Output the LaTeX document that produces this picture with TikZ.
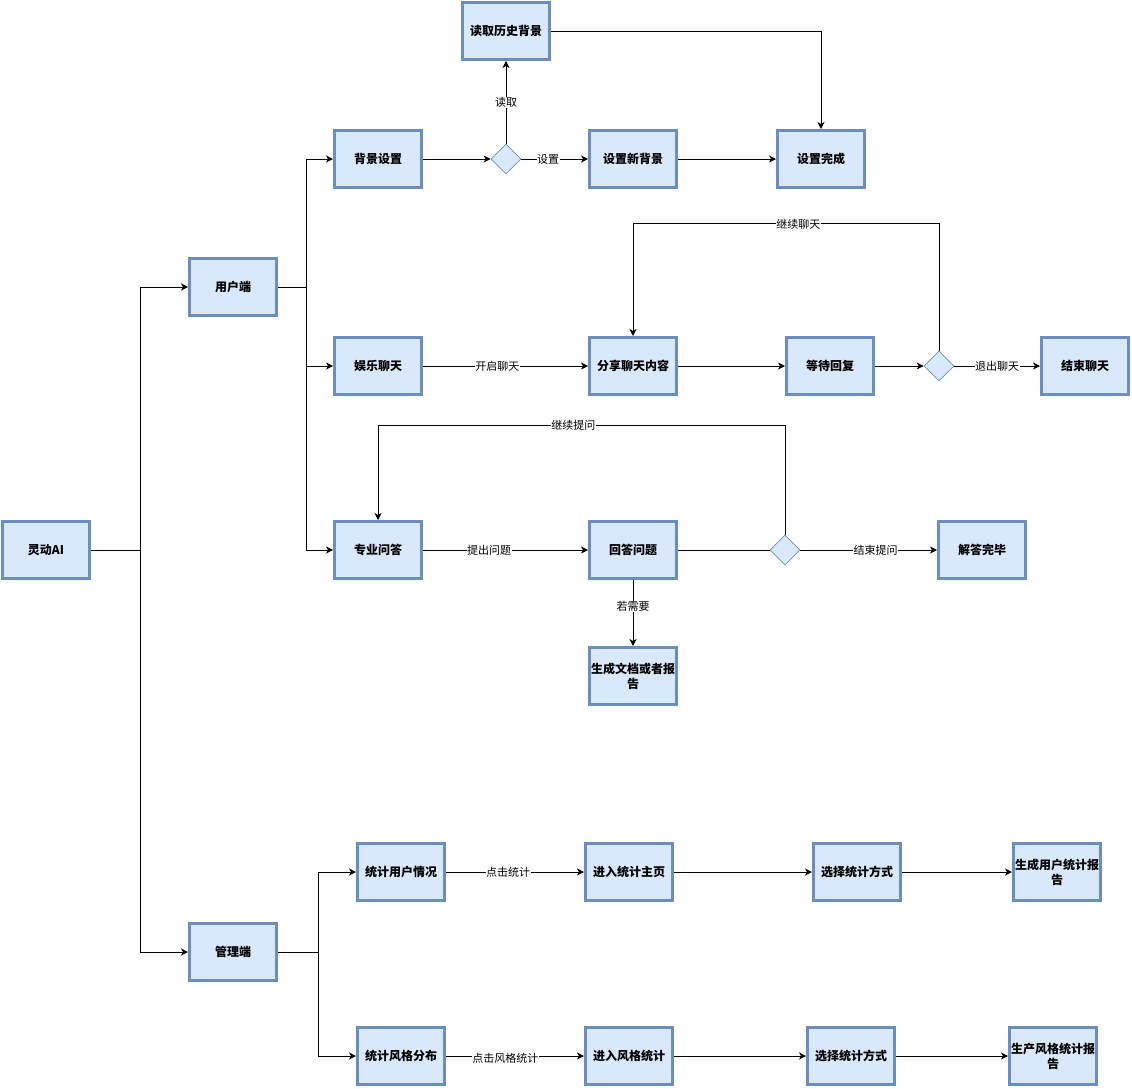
\documentclass[tikz,border=0pt]{standalone}
\usepackage{fontspec}
\setmainfont{Noto Sans CJK SC}
\usetikzlibrary{shapes.geometric,arrows.meta}
\definecolor{boxfill}{HTML}{DAE8FC}
\definecolor{boxline}{HTML}{6C8EBF}

\begin{document}
\begin{tikzpicture}[x=1pt,y=-1pt,
  box/.style={draw=boxline,fill=boxfill,line width=3pt,minimum width=87pt,minimum height=57pt,inner sep=1pt,align=center,font=\bfseries\fontsize{12}{15}\selectfont},
  choice/.style={diamond,draw=boxline,fill=boxfill,line width=0.7pt,minimum width=30pt,minimum height=30pt,inner sep=0pt},
  flow/.style={line width=1pt,-{Stealth[length=7pt,width=7pt,inset=2pt]}},
  link/.style={line width=1pt},
  lbl/.style={fill=white,inner sep=0.5pt,font=\fontsize{11}{12}\selectfont}]
\useasboundingbox (0,0) rectangle (1132,1088);
% boxes
\node[box] (ai) at (46,550) {灵动AI};
\node[box] (user) at (233,287) {用户端};
\node[box] (admin) at (233,952) {管理端};
\node[box] (bg) at (378,159) {背景设置};
\node[choice] (d1) at (506,159) {};
\node[box] (hist) at (506,31) {读取历史背景};
\node[box] (newbg) at (633,159) {设置新背景};
\node[box] (bgdone) at (821,159) {设置完成};
\node[box] (chat) at (378,366) {娱乐聊天};
\node[box] (share) at (633,366) {分享聊天内容};
\node[box] (wait) at (830,366) {等待回复};
\node[choice] (d2) at (939,366) {};
\node[box] (chatend) at (1085,366) {结束聊天};
\node[box] (qa) at (378,550) {专业问答};
\node[box] (answer) at (633,550) {回答问题};
\node[choice] (d3) at (785,550) {};
\node[box] (qadone) at (982,550) {解答完毕};
\node[box] (doc) at (633,676) {生成文档或者报\\告};
\node[box] (su) at (401,872) {统计用户情况};
\node[box] (sumain) at (629,872) {进入统计主页};
\node[box] (suway) at (857,872) {选择统计方式};
\node[box] (sureport) at (1057,872) {生成用户统计报\\告};
\node[box] (ss) at (401,1056) {统计风格分布};
\node[box] (ssmain) at (629,1056) {进入风格统计};
\node[box] (ssway) at (851,1056) {选择统计方式};
\node[box] (ssreport) at (1053,1056) {生产风格统计报\\告};
% branch points
\coordinate (split1) at (140,550);
\coordinate (split2) at (306,287);
\coordinate (split3) at (318,952);
\coordinate (loop1) at (939,223);
\coordinate (loop2) at (785,425);
% connectors
\draw[link] (ai) -- (split1);
\draw[flow] (split1) |- (user);
\draw[flow] (split1) |- (admin);
\draw[link] (user) -- (split2);
\draw[flow] (split2) |- (bg);
\draw[flow] (split2) |- (chat);
\draw[flow] (split2) |- (qa);
\draw[link] (admin) -- (split3);
\draw[flow] (split3) |- (su);
\draw[flow] (split3) |- (ss);

\draw[flow] (bg) -- (d1);
\draw[flow] (d1) -- node[lbl]{读取} (hist);
\draw[flow] (d1) -- node[lbl,pos=0.4]{设置} (newbg);
\draw[flow] (hist) -| (bgdone);
\draw[flow] (newbg) -- (bgdone);

\draw[flow] (chat) -- node[lbl,pos=0.45]{开启聊天} (share);
\draw[flow] (share) -- (wait);
\draw[flow] (wait) -- (d2);
\draw[flow] (d2) -- node[lbl]{退出聊天} (chatend);
\draw[flow] (d2) -- (loop1) -| node[lbl,pos=0.23,yshift=-1pt]{继续聊天} (share);

\draw[flow] (qa) -- node[lbl,pos=0.4]{提出问题} (answer);
\draw[link] (answer) -- (d3);
\draw[flow] (d3) -- node[lbl,pos=0.55]{结束提问} (qadone);
\draw[flow] (d3) -- (loop2) -| node[lbl,pos=0.26]{继续提问} (qa);
\draw[flow] (answer) -- node[lbl,pos=0.4]{若需要} (doc);

\draw[flow] (su) -- node[lbl,pos=0.45]{点击统计} (sumain);
\draw[flow] (sumain) -- (suway);
\draw[flow] (suway) -- (sureport);
\draw[flow] (ss) -- node[lbl,pos=0.43,yshift=-2pt]{点击风格统计} (ssmain);
\draw[flow] (ssmain) -- (ssway);
\draw[flow] (ssway) -- (ssreport);
\end{tikzpicture}
\end{document}
